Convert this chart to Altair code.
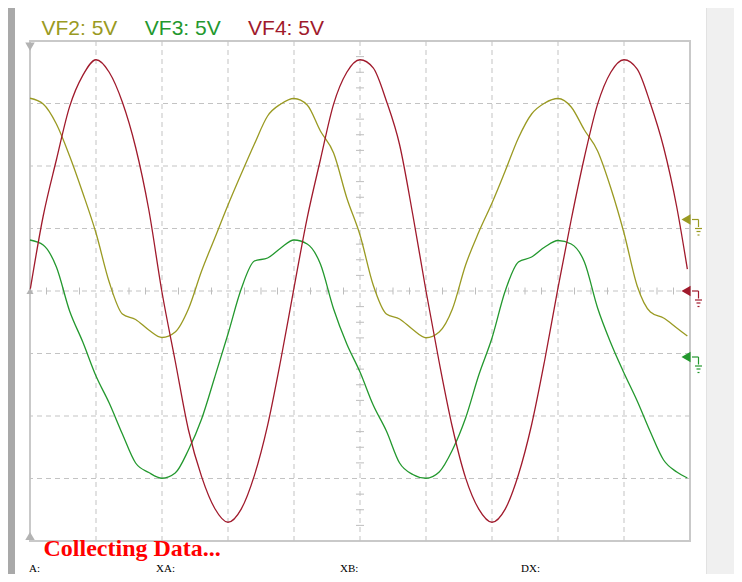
import altair as alt
import pandas as pd

# ---------------- data (read from the scope screen) ----------------
# time axis in screen divisions (10 divisions across)
T = [0.0, 0.2, 0.4, 0.6, 0.8, 1.0, 1.2, 1.4, 1.6, 1.8,
     2.0, 2.2, 2.4, 2.6, 2.8, 3.0, 3.2, 3.4, 3.6, 3.8,
     4.0, 4.2, 4.4, 4.6, 4.8, 5.0, 5.2, 5.4, 5.6, 5.8,
     6.0, 6.2, 6.4, 6.6, 6.8, 7.0, 7.2, 7.4, 7.6, 7.8,
     8.0, 8.2, 8.4, 8.6, 8.8, 9.0, 9.2, 9.4, 9.6, 9.8, 9.96]

# volts, relative to each channel's ground
VF2 = [9.70, 9.24, 7.64, 5.08, 2.12, -1.08, -5.00, -7.56, -8.00, -8.84,
       -9.44, -9.00, -7.16, -4.12, -1.48, 1.16, 3.64, 6.04, 8.28, 9.24,
       9.68, 9.16, 7.08, 5.32, 1.72, -1.24, -5.24, -7.56, -7.96, -8.80,
       -9.46, -9.00, -7.16, -3.64, -1.00, 1.32, 3.88, 6.52, 8.44, 9.32,
       9.68, 9.00, 7.16, 5.48, 2.52, -1.08, -5.32, -7.40, -7.88, -8.68, -9.32]
VF3 = [9.36, 8.96, 7.20, 3.68, 1.20, -1.52, -3.68, -6.16, -8.48, -9.24,
       -9.70, -9.28, -7.44, -4.96, -1.60, 1.84, 5.44, 7.68, 7.92, 8.72,
       9.36, 9.04, 7.44, 3.84, 1.04, -1.20, -3.84, -5.92, -8.48, -9.40,
       -9.70, -9.20, -7.44, -4.88, -1.44, 1.52, 5.28, 7.60, 8.00, 8.80,
       9.32, 9.04, 7.60, 3.92, 1.12, -1.28, -3.52, -6.00, -8.24, -9.20, -9.68]
VF4 = [0.0, 6.0, 10.5, 14.75, 17.25, 18.5, 17.5, 15.1, 11.5, 6.5,
       -0.1, -5.6, -11.1, -14.85, -17.4, -18.5, -17.45, -14.75, -10.75, -5.5,
       0.25, 5.85, 10.5, 14.95, 17.5, 18.5, 17.85, 15.2, 11.7, 6.1,
       0.0, -5.7, -10.9, -14.95, -17.45, -18.5, -17.45, -14.7, -10.7, -5.5,
       0.25, 5.7, 10.7, 14.95, 17.5, 18.5, 17.75, 15.0, 11.5, 6.7, 1.75]

CHANNELS = ["VF2", "VF3", "VF4"]
VOLTS_PER_DIV = [5, 5, 5]
GROUND_DIV = [1.144, -1.056, 0.0]          # ground marker level, in divisions
COLORS = ["#9a9a22", "#23982e", "#a01a2c"]

GRID_X = [1, 2, 3, 4, 5, 6, 7, 8, 9]
GRID_Y = [-3, -2, -1, 0, 1, 2, 3]
STATUS = "Collecting Data..."
READOUTS = ["A:", "XA:", "XB:", "DX:"]

# ---------------- build tables ----------------
rows = []
for name, vals, vpd, g in zip(CHANNELS, [VF2, VF3, VF4], VOLTS_PER_DIV, GROUND_DIV):
    for t, v in zip(T, vals):
        rows.append({"t": t, "v": v, "y": v / vpd + g, "ch": name})
df = pd.DataFrame(rows)

W, H = 660, 500
PX_X = 10 / W      # divisions per pixel
PX_Y = 8 / H

xs = alt.Scale(domain=[0, 10], nice=False, zero=False)
ys = alt.Scale(domain=[-4, 4], nice=False, zero=False)
color = alt.Color("ch:N", scale=alt.Scale(domain=CHANNELS, range=COLORS), legend=None)

one = pd.DataFrame({"a": [0]})

# left gray bar and right side panel (window chrome)
left_bar = alt.Chart(one).mark_rect(color="#a9a9a9").encode(
    x=alt.value(-22), x2=alt.value(-15), y=alt.value(-33), y2=alt.value(533))
side = alt.Chart(one).mark_rect(color="#f0f0f0").encode(
    x=alt.value(676), x2=alt.value(704), y=alt.value(-33), y2=alt.value(533))
side_edge = alt.Chart(one).mark_rule(color="#e2e2e2", strokeWidth=1).encode(
    x=alt.value(676.5), y=alt.value(-33), y2=alt.value(533))

# grid
grid_v = alt.Chart(pd.DataFrame({"x": GRID_X})).mark_rule(
    color="#c3c3c3", strokeDash=[5, 4], strokeWidth=1).encode(
    x=alt.X("x:Q", scale=xs, axis=None))
grid_h = alt.Chart(pd.DataFrame({"y": GRID_Y})).mark_rule(
    color="#c3c3c3", strokeDash=[5, 4], strokeWidth=1).encode(
    y=alt.Y("y:Q", scale=ys, axis=None))

# minor ticks on the centre cross (4 per division)
mx = [k * 0.25 for k in range(1, 40) if k % 4]
my = [k * 0.25 - 4 for k in range(1, 32) if k % 4]
tick_h = alt.Chart(pd.DataFrame({"x": mx, "y0": [-3.5 * PX_Y] * len(mx), "y1": [3.5 * PX_Y] * len(mx)})).mark_rule(
    color="#bdbdbd", strokeWidth=1).encode(
    x=alt.X("x:Q", scale=xs, axis=None), y=alt.Y("y0:Q", scale=ys, axis=None), y2="y1:Q")
tick_v = alt.Chart(pd.DataFrame({"y": my, "x0": [5 - 4 * PX_X] * len(my), "x1": [5 + 4 * PX_X] * len(my)})).mark_rule(
    color="#bdbdbd", strokeWidth=1).encode(
    y=alt.Y("y:Q", scale=ys, axis=None), x=alt.X("x0:Q", scale=xs, axis=None), x2="x1:Q")

# traces
traces = alt.Chart(df).mark_line(strokeWidth=1.3, interpolate="monotone").encode(
    x=alt.X("t:Q", scale=xs, axis=None),
    y=alt.Y("y:Q", scale=ys, axis=None),
    color=color, detail="ch:N")

# left-edge gray markers (trigger / limits)
lm = pd.DataFrame({"x": [0, 0, 0], "y": [3.91, -3.92, 0.0],
                   "shape": ["triangle-down", "triangle-up", "triangle-up"],
                   "s": [90, 90, 50]})
left_marks = alt.Chart(lm).mark_point(filled=True, opacity=1, color="#b3b3b3").encode(
    x=alt.X("x:Q", scale=xs, axis=None), y=alt.Y("y:Q", scale=ys, axis=None),
    shape=alt.Shape("shape:N", scale=None), size=alt.Size("s:Q", scale=None))

# ground markers on the right
gdf = pd.DataFrame({"ch": CHANNELS, "y": GROUND_DIV, "x": [9.94] * 3})
gtri = alt.Chart(gdf).mark_point(shape="triangle-left", filled=True, opacity=1, size=110).encode(
    x=alt.X("x:Q", scale=xs, axis=None), y=alt.Y("y:Q", scale=ys, axis=None), color=color)
SEG = [(0, 0, 6.5, 0), (6.5, 0, 6.5, 7.5), (3, 9, 10, 9), (4.5, 12, 8.5, 12), (5.5, 15.5, 7.5, 15.5)]
seg_rows = []
for name, g in zip(CHANNELS, GROUND_DIV):
    for (a, b, c, d) in SEG:
        seg_rows.append({"ch": name,
                         "x0": (662 + a) * PX_X, "x1": (662 + c) * PX_X,
                         "y0": g - b * PX_Y, "y1": g - d * PX_Y})
gsym = alt.Chart(pd.DataFrame(seg_rows)).mark_rule(strokeWidth=1.2).encode(
    x=alt.X("x0:Q", scale=xs, axis=None), x2="x1:Q",
    y=alt.Y("y0:Q", scale=ys, axis=None), y2="y1:Q", color=color)

# channel titles
tdf = pd.DataFrame({"ch": CHANNELS,
                    "label": [f"{c}: {v}V" for c, v in zip(CHANNELS, VOLTS_PER_DIV)],
                    "px": [11.5 + 103.3 * i for i in range(3)]})
titles = alt.Chart(tdf).mark_text(align="left", baseline="alphabetic", fontSize=21,
                                  font="Liberation Sans").encode(
    x=alt.X("px:Q", scale=None), y=alt.value(-6.5), text="label:N", color=color)

status = alt.Chart(pd.DataFrame({"s": [STATUS]})).mark_text(
    align="left", baseline="alphabetic", fontSize=24, fontWeight="bold",
    font="Liberation Serif", color="#ff0000").encode(
    x=alt.value(13.5), y=alt.value(515), text="s:N")

rdf = pd.DataFrame({"s": READOUTS, "px": [-1, 126, 310, 491]})
readouts = alt.Chart(rdf).mark_text(align="left", baseline="alphabetic", fontSize=11,
                                    font="Liberation Serif", color="#000000").encode(
    x=alt.X("px:Q", scale=None), y=alt.value(530.5), text="s:N")

chart = alt.layer(
    left_bar, side, side_edge, grid_v, grid_h, tick_h, tick_v, traces,
    left_marks, gtri, gsym, titles, status, readouts
).properties(
    width=W, height=H,
    autosize=alt.AutoSizeParams(type="none"),
    padding={"left": 22, "top": 33, "right": 44, "bottom": 33},
    background="#ffffff",
).configure_view(stroke="#c9c9c9", strokeWidth=2)

chart.save("out.html", embed_options={"renderer": "svg", "actions": False})
